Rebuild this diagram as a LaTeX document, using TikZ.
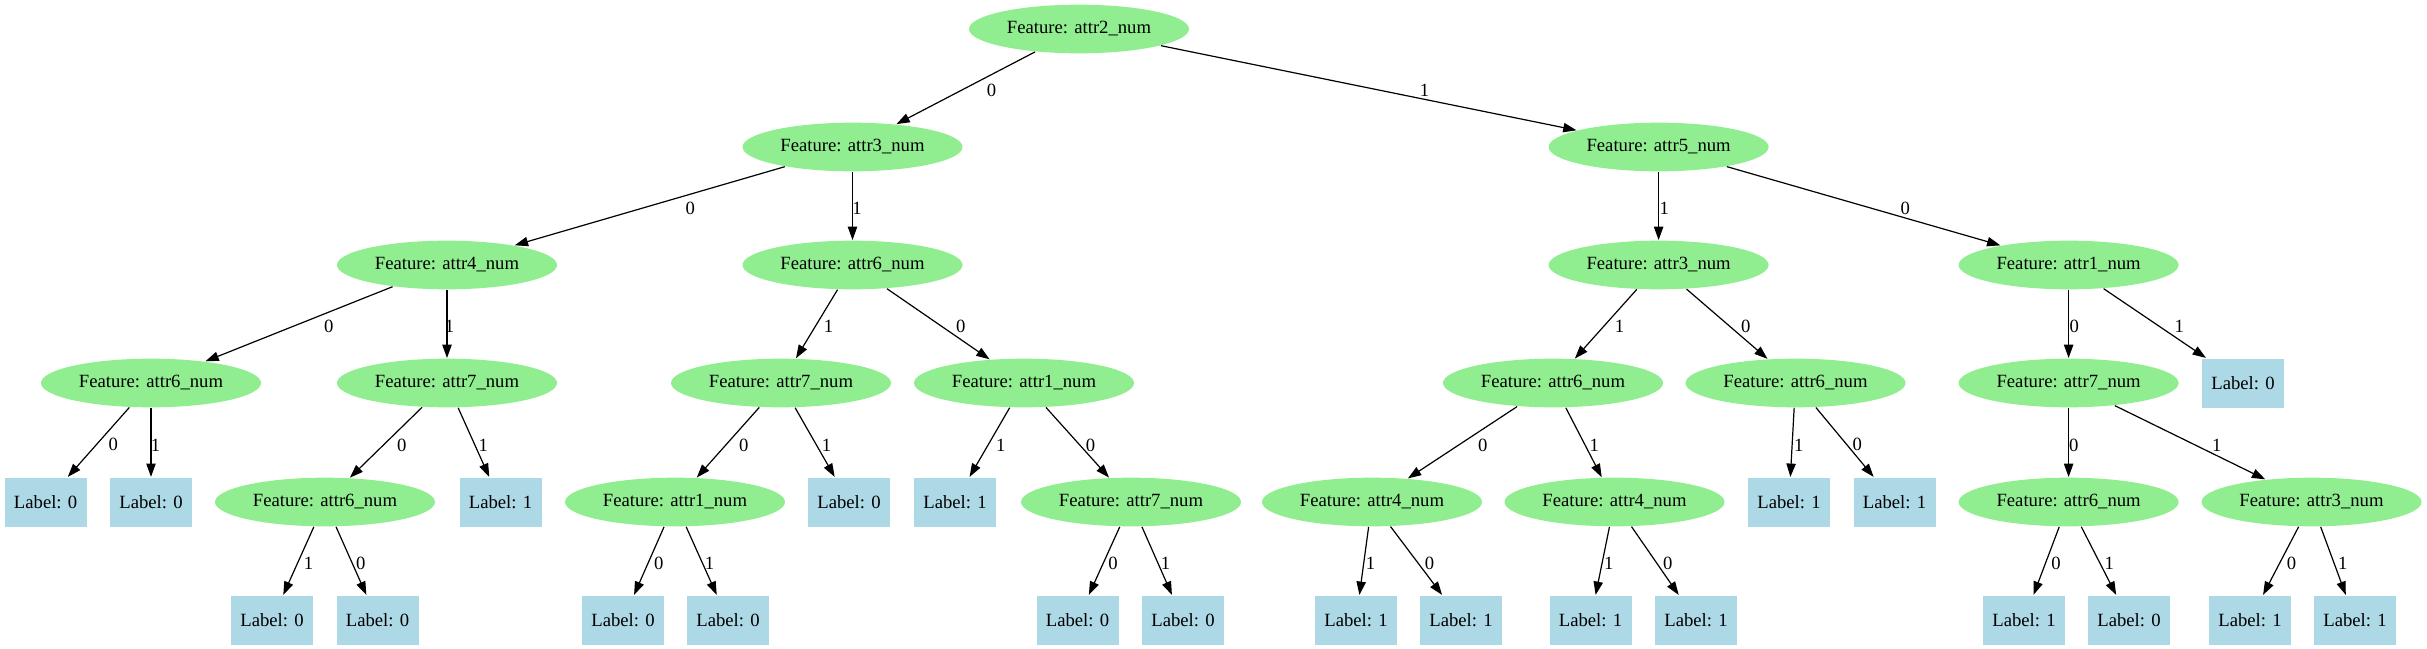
\documentclass[tikz,border=0pt]{standalone}
\usepackage{fontspec}
\setmainfont{Liberation Serif}
\usetikzlibrary{arrows.meta, shapes.geometric}

\definecolor{featgreen}{HTML}{90EE90}
\definecolor{leafblue}{HTML}{ADD8E6}

\tikzset{
	feat/.style = {ellipse, fill=featgreen, minimum width=165pt, minimum height=36.5pt, inner sep=0pt, font=\fontsize{14pt}{17pt}\selectfont},
	leaf/.style = {rectangle, fill=leafblue, minimum width=61.5pt, minimum height=36.75pt, inner sep=0pt, font=\fontsize{14pt}{17pt}\selectfont},
	lbl/.style  = {anchor=west, inner sep=2pt, yshift=-2pt, font=\fontsize{14pt}{17pt}\selectfont}
}

\begin{document}
\begin{tikzpicture}[->, > = {Triangle[length=10pt, width=7pt]}, line width=0.9pt, x=0.75pt, y=-0.75pt]

\useasboundingbox (0,0) rectangle (2427,649);

% rank 1 and 2
\node[feat]		(0)		at (1079,29)		{Feature: attr2\_num};
\node[feat]		(1)		at (852.5,147)		{Feature: attr3\_num};
\node[feat]		(2)		at (1658.6,147)		{Feature: attr5\_num};

% rank 3
\node[feat]		(3)		at (447,265)		{Feature: attr4\_num};
\node[feat]		(4)		at (852.5,265)		{Feature: attr6\_num};
\node[feat]		(5)		at (1658.6,265)		{Feature: attr3\_num};
\node[feat]		(6)		at (2068.6,265)		{Feature: attr1\_num};

% rank 4
\node[feat]		(7)		at (151,383)		{Feature: attr6\_num};
\node[feat]		(8)		at (447,383)		{Feature: attr7\_num};
\node[feat]		(9)		at (781,383)		{Feature: attr7\_num};
\node[feat]		(10)	at (1024,383)		{Feature: attr1\_num};
\node[feat]		(11)	at (1553,383)		{Feature: attr6\_num};
\node[feat]		(12)	at (1795.5,383)		{Feature: attr6\_num};
\node[feat]		(13)	at (2068.6,383)		{Feature: attr7\_num};
\node[leaf]		(14)	at (2243,383)		{Label: 0};

% rank 5
\node[leaf]		(15)	at (45.6,502)		{Label: 0};
\node[leaf]		(16)	at (151,502)		{Label: 0};
\node[feat]		(17)	at (325,502)		{Feature: attr6\_num};
\node[leaf]		(18)	at (500.5,502)		{Label: 1};
\node[feat]		(19)	at (675,502)		{Feature: attr1\_num};
\node[leaf]		(20)	at (849,502)		{Label: 0};
\node[leaf]		(21)	at (955,502)		{Label: 1};
\node[feat]		(22)	at (1131,502)		{Feature: attr7\_num};
\node[feat]		(23)	at (1372,502)		{Feature: attr4\_num};
\node[feat]		(24)	at (1614.5,502)		{Feature: attr4\_num};
\node[leaf]		(25)	at (1789,502)		{Label: 1};
\node[leaf]		(26)	at (1894.5,502)		{Label: 1};
\node[feat]		(27)	at (2068.6,502)		{Feature: attr6\_num};
\node[feat]		(28)	at (2311.5,502)		{Feature: attr3\_num};

% rank 6
\node[leaf]		(29)	at (272,620)		{Label: 0};
\node[leaf]		(30)	at (377.5,620)		{Label: 0};
\node[leaf]		(31)	at (623,620)		{Label: 0};
\node[leaf]		(32)	at (728,620)		{Label: 0};
\node[leaf]		(33)	at (1077.5,620)		{Label: 0};
\node[leaf]		(34)	at (1183,620)		{Label: 0};
\node[leaf]		(35)	at (1356,620)		{Label: 1};
\node[leaf]		(36)	at (1461,620)		{Label: 1};
\node[leaf]		(37)	at (1590.5,620)		{Label: 1};
\node[leaf]		(38)	at (1696,620)		{Label: 1};
\node[leaf]		(39)	at (2024,620)		{Label: 1};
\node[leaf]		(40)	at (2129,620)		{Label: 0};
\node[leaf]		(41)	at (2250,620)		{Label: 1};
\node[leaf]		(42)	at (2355,620)		{Label: 1};

\path	(0)		edge	node[lbl, xshift=13.3pt]	{0}		(1);
\path	(0)		edge	node[lbl, xshift=35.8pt]	{1}		(2);
\path	(1)		edge	node[lbl, xshift=24.5pt]	{0}		(3);
\path	(1)		edge	node[lbl, xshift=-2.5pt]	{1}		(4);
\path	(2)		edge	node[lbl, xshift=-1.7pt]	{1}		(5);
\path	(2)		edge	node[lbl, xshift=25.3pt]	{0}		(6);
\path	(3)		edge	node[lbl, xshift=16.3pt]	{0}		(7);
\path	(3)		edge	node[lbl, xshift=-4pt]		{1}		(8);
\path	(4)		edge	node[lbl, xshift=2.8pt]		{1}		(9);
\path	(4)		edge	node[lbl, xshift=11pt]		{0}		(10);
\path	(5)		edge	node[lbl, xshift=4.3pt]		{1}		(11);
\path	(5)		edge	node[lbl, xshift=8pt]		{0}		(12);
\path	(6)		edge	node[lbl, xshift=-1.7pt]	{0}		(13);
\path	(6)		edge	node[lbl, xshift=12.5pt]	{1}		(14);
\path	(7)		edge	node[lbl, xshift=5pt]		{0}		(15);
\path	(7)		edge	node[lbl, xshift=-2.5pt]	{1}		(16);
\path	(8)		edge	node[lbl, xshift=5.8pt]		{0}		(17);
\path	(8)		edge	node[lbl, xshift=1.3pt]		{1}		(18);
\path	(9)		edge	node[lbl, xshift=5.8pt]		{0}		(19);
\path	(9)		edge	node[lbl, xshift=2.8pt]		{1}		(20);
\path	(10)	edge	node[lbl, xshift=2.4pt]		{1}		(21);
\path	(10)	edge	node[lbl, xshift=3.9pt]		{0}		(22);
\path	(11)	edge	node[lbl, xshift=9.2pt]		{0}		(23);
\path	(11)	edge	node[lbl, xshift=2pt]		{1}		(24);
\path	(12)	edge	node[lbl, xshift=-1pt]		{1}		(25);
\path	(12)	edge	node[lbl, xshift=3.5pt]		{0}		(26);
\path	(13)	edge	node[lbl, xshift=-2pt]		{0}		(27);
\path	(13)	edge	node[lbl, xshift=14pt]		{1}		(28);
\path	(17)	edge	node[lbl, xshift=1.6pt]		{1}		(29);
\path	(17)	edge	node[lbl, xshift=1.3pt]		{0}		(30);
\path	(19)	edge	node[lbl, xshift=1.3pt]		{0}		(31);
\path	(19)	edge	node[lbl, xshift=0.2pt]		{1}		(32);
\path	(22)	edge	node[lbl, xshift=0.5pt]		{0}		(33);
\path	(22)	edge	node[lbl, xshift=0.5pt]		{1}		(34);
\path	(23)	edge	node[lbl, xshift=-1pt]		{1}		(35);
\path	(23)	edge	node[lbl, xshift=3.9pt]		{0}		(36);
\path	(24)	edge	node[lbl, xshift=-1.3pt]	{1}		(37);
\path	(24)	edge	node[lbl, xshift=3.5pt]		{0}		(38);
\path	(27)	edge	node[lbl, xshift=1.3pt]		{0}		(39);
\path	(27)	edge	node[lbl, xshift=2pt]		{1}		(40);
\path	(28)	edge	node[lbl, xshift=2pt]		{0}		(41);
\path	(28)	edge	node[lbl, xshift=1.3pt]		{1}		(42);

\end{tikzpicture}
\end{document}
